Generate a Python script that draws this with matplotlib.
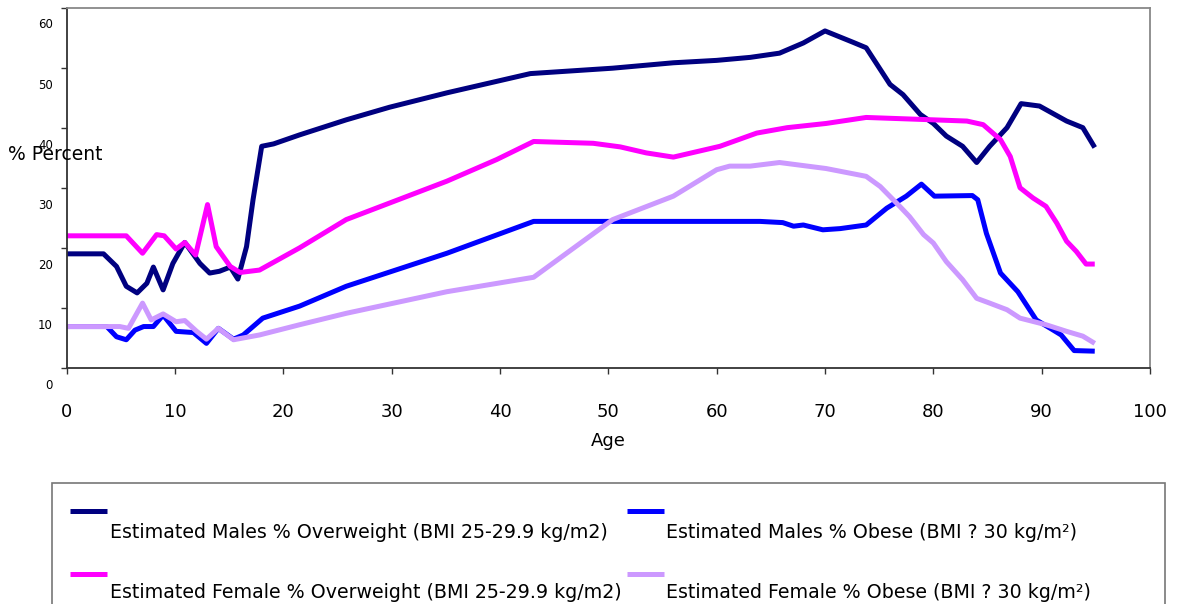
import matplotlib
matplotlib.use("Agg")
import matplotlib.pyplot as plt
from matplotlib.transforms import ScaledTranslation
from matplotlib.patches import Rectangle
from matplotlib.lines import Line2D

# ---- data ----
male_ow_age = [0, 3.4, 4.6, 5.5, 6.5, 7.4, 8.0, 8.9, 9.8, 10.9, 12.3, 13.2, 14.1, 15.1, 15.8,
               16.6, 17.2, 18.0, 19.1, 21.5, 25.8, 29.8, 35.1, 42.8, 50.4, 56.0, 60.0, 63.1,
               65.8, 68.0, 70.0, 72.6, 73.8, 76.0, 77.2, 78.8, 80.0, 81.2, 82.7, 84.0, 85.2,
               86.8, 88.1, 89.8, 92.3, 93.8, 94.9]
male_ow = [19.0, 19.0, 16.9, 13.6, 12.5, 14.1, 16.8, 13.0, 17.4, 20.9, 17.4, 15.8, 16.1, 16.8, 14.8,
           20.2, 28.0, 36.9, 37.3, 38.8, 41.3, 43.4, 45.8, 49.0, 49.9, 50.8, 51.2, 51.7,
           52.4, 54.1, 56.1, 54.2, 53.3, 47.2, 45.5, 42.2, 40.7, 38.6, 36.9, 34.2, 36.9,
           40.0, 44.0, 43.6, 41.1, 40.0, 36.7]

male_ob_age = [0, 3.7, 4.6, 5.5, 6.3, 7.1, 8.0, 8.9, 10.1, 11.7, 12.9, 14.0, 15.4, 16.3, 18.1,
               21.5, 25.8, 35.1, 43.1, 64.0, 66.1, 67.1, 68.0, 69.8, 71.4, 73.8, 75.7, 77.5,
               78.9, 80.1, 83.6, 84.1, 84.9, 86.2, 87.8, 89.5, 90.8, 91.8, 93.0, 94.9]
male_ob = [6.9, 6.9, 5.2, 4.7, 6.3, 6.9, 6.9, 8.8, 6.1, 5.9, 4.1, 6.6, 4.8, 5.5, 8.3,
           10.3, 13.6, 19.1, 24.4, 24.4, 24.2, 23.6, 23.8, 23.0, 23.2, 23.8, 26.6, 28.6,
           30.6, 28.6, 28.7, 28.0, 22.4, 15.8, 12.7, 8.0, 6.6, 5.5, 2.9, 2.8]

female_ow_age = [0, 5.5, 7.0, 8.3, 9.0, 10.1, 10.9, 11.9, 13.0, 13.8, 15.1, 16.0, 17.8, 21.5,
                 25.8, 35.1, 39.7, 43.1, 48.6, 51.1, 53.5, 56.0, 60.3, 63.7, 66.5, 70.1, 73.8,
                 78.5, 83.1, 84.6, 86.2, 87.1, 88.0, 89.2, 90.4, 91.4, 92.3, 93.2, 94.1, 94.9]
female_ow = [22.0, 22.0, 19.1, 22.2, 22.0, 19.8, 20.9, 18.8, 27.2, 20.2, 16.9, 15.9, 16.3, 20.0,
             24.7, 31.1, 34.7, 37.7, 37.4, 36.8, 35.8, 35.1, 36.9, 39.1, 40.0, 40.7, 41.7,
             41.4, 41.1, 40.5, 38.0, 35.2, 30.0, 28.3, 26.9, 24.1, 21.1, 19.4, 17.3, 17.3]

female_ob_age = [0, 4.9, 5.7, 7.0, 7.8, 8.9, 10.1, 10.9, 12.0, 12.9, 14.0, 15.4, 17.8, 21.5,
                 25.8, 35.1, 43.1, 50.4, 56.0, 60.0, 61.2, 63.1, 65.8, 70.1, 73.8, 75.1, 76.9,
                 77.8, 79.1, 80.0, 81.2, 82.7, 84.0, 85.2, 86.8, 88.0, 90.4, 92.3, 93.8, 94.9]
female_ob = [6.9, 6.9, 6.6, 10.8, 8.0, 9.0, 7.7, 7.9, 6.1, 4.8, 6.6, 4.7, 5.5, 7.2,
             9.1, 12.7, 15.1, 24.7, 28.6, 33.0, 33.6, 33.6, 34.2, 33.2, 31.9, 30.2, 26.9,
             25.2, 22.2, 20.8, 17.7, 14.7, 11.6, 10.8, 9.7, 8.3, 7.2, 6.1, 5.3, 4.1]

labels = ["Estimated Males % Overweight (BMI 25-29.9 kg/m2)",
          "Estimated Males % Obese (BMI ? 30 kg/m\u00b2)",
          "Estimated Female % Overweight (BMI 25-29.9 kg/m2)",
          "Estimated Female % Obese (BMI ? 30 kg/m\u00b2)"]
colors = ["#000080", "#0000FF", "#FF00FF", "#CC99FF"]

x_ticks = [0, 10, 20, 30, 40, 50, 60, 70, 80, 90, 100]
y_ticks = [0, 10, 20, 30, 40, 50, 60]

# ---- figure ----
W, H = 1179, 604
fig = plt.figure(figsize=(W / 100, H / 100), dpi=100)
plt.rcParams['font.family'] = ['DejaVu Sans']

def fx(px):
    return px / W

def fy(py):
    return 1 - py / H

ax = fig.add_axes([fx(66.7), fy(368), fx(1150) - fx(66.7), fy(7.5) - fy(368)])
ax.set_xlim(0, 100)
ax.set_ylim(0, 60)

series = [(male_ow_age, male_ow), (male_ob_age, male_ob),
          (female_ow_age, female_ow), (female_ob_age, female_ob)]
for (xa, ya), c, lab in zip(series, colors, labels):
    ax.plot(xa, ya, color=c, lw=3.6, solid_joinstyle='round', solid_capstyle='butt', label=lab)

for side in ['top', 'right']:
    ax.spines[side].set_color('#888888')
    ax.spines[side].set_linewidth(1.3)
for side in ['left', 'bottom']:
    ax.spines[side].set_color('#333333')
    ax.spines[side].set_linewidth(1.3)

ax.set_xticks(x_ticks)
ax.set_yticks(y_ticks)
ax.tick_params(axis='x', direction='out', length=4.5, width=1.0, color='#333333',
               labelsize=13, pad=20.5, labelcolor='black')
ax.tick_params(axis='y', direction='out', length=4, width=1.0, color='#333333',
               labelsize=8.5, pad=6, labelcolor='black')
off = ScaledTranslation(0, -16 / 100, fig.dpi_scale_trans)
for lbl in ax.get_yticklabels():
    lbl.set_transform(lbl.get_transform() + off)

fig.text(fx(608), fy(441), "Age", ha='center', va='center', fontsize=13)
fig.text(fx(8), fy(155), "% Percent", ha='left', va='center', fontsize=13.5)

# ---- legend box ----
fig.patches.append(Rectangle((fx(52), fy(640)), fx(1165) - fx(52), fy(483.5) - fy(640),
                             transform=fig.transFigure, facecolor='white',
                             edgecolor='#777777', lw=1.2))
handle_pos = [(70, 511, 110, 533), (627, 511, 666, 533), (70, 574, 110, 593), (627, 574, 666, 593)]
for (hx, hy, tx, ty), c, lab in zip(handle_pos, colors, labels):
    fig.add_artist(Line2D([fx(hx), fx(hx + 37)], [fy(hy), fy(hy)], transform=fig.transFigure,
                          color=c, lw=3.6, solid_capstyle='butt'))
    fig.text(fx(tx), fy(ty), lab, ha='left', va='center', fontsize=13.7)

fig.savefig("out.png", dpi=100)
